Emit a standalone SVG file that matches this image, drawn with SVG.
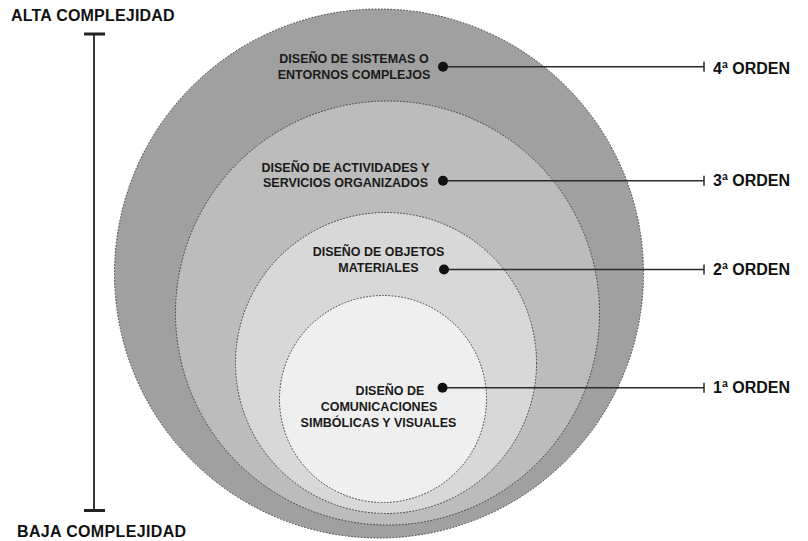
<svg xmlns="http://www.w3.org/2000/svg" width="808" height="541" viewBox="0 0 808 541">
  <style>
    .ring { stroke: #3a3a3a; stroke-width: 1; stroke-dasharray: 1.6 1.6; }
    .lbl { font-family: "Liberation Sans", Arial, sans-serif; font-weight: bold; font-size: 12.5px; fill: #1a1a1a; text-anchor: middle; }
    .big { font-family: "Liberation Sans", Arial, sans-serif; font-weight: bold; font-size: 16px; fill: #111; }
    .conn { stroke: #2a2a2a; stroke-width: 1.5; fill: none; }
    .dot { fill: #111; }
  </style>
  <rect width="808" height="541" fill="#ffffff"/>

  <g id="scale">
    <line x1="94" y1="34" x2="94" y2="510" stroke="#222" stroke-width="1.8"/>
    <rect x="84" y="32.5" width="21" height="3" fill="#222"/>
    <rect x="84" y="509" width="21" height="3" fill="#222"/>
    <text class="big" x="11" y="20.7" letter-spacing="0.2">ALTA COMPLEJIDAD</text>
    <text class="big" x="17" y="536.7" letter-spacing="0.35">BAJA COMPLEJIDAD</text>
  </g>

  <g id="node-4">
    <circle class="ring" cx="379" cy="273.5" r="264.5" fill="#a0a0a0"/>
  </g>
  <g id="node-3">
    <circle class="ring" cx="387.5" cy="313" r="212" fill="#bcbcbc"/>
  </g>
  <g id="node-2">
    <circle class="ring" cx="386" cy="363" r="150.5" fill="#d8d8d8"/>
  </g>
  <g id="node-1">
    <circle class="ring" cx="383" cy="399" r="103.5" fill="#efefef"/>
  </g>

  <g id="labels">
    <g id="label-4">
      <text class="lbl" x="354" y="63.3">DISEÑO DE SISTEMAS O</text>
      <text class="lbl" x="354" y="79.3">ENTORNOS COMPLEJOS</text>
    </g>
    <g id="label-3">
      <text class="lbl" x="345.5" y="171.7">DISEÑO DE ACTIVIDADES Y</text>
      <text class="lbl" x="345.5" y="187.3">SERVICIOS ORGANIZADOS</text>
    </g>
    <g id="label-2">
      <text class="lbl" x="378.5" y="255.7">DISEÑO DE OBJETOS</text>
      <text class="lbl" x="378.5" y="271.7">MATERIALES</text>
    </g>
    <g id="label-1">
      <text class="lbl" x="390" y="395">DISEÑO DE</text>
      <text class="lbl" x="379" y="410.7">COMUNICACIONES</text>
      <text class="lbl" x="378.5" y="426.7">SIMBÓLICAS Y VISUALES</text>
    </g>
  </g>

  <g id="connectors">
    <line class="conn" x1="443" y1="66.7" x2="704" y2="66.7"/>
    <line class="conn" x1="704" y1="61.7" x2="704" y2="71.7"/>
    <circle class="dot" cx="443" cy="66.7" r="5"/>

    <line class="conn" x1="443" y1="180.7" x2="704" y2="180.7"/>
    <line class="conn" x1="704" y1="175.7" x2="704" y2="185.7"/>
    <circle class="dot" cx="443" cy="180.7" r="5"/>

    <line class="conn" x1="444" y1="269.5" x2="704" y2="269.5"/>
    <line class="conn" x1="704" y1="264.5" x2="704" y2="274.5"/>
    <circle class="dot" cx="444" cy="269.5" r="5"/>

    <line class="conn" x1="442.5" y1="387.7" x2="704" y2="387.7"/>
    <line class="conn" x1="704" y1="382.7" x2="704" y2="392.7"/>
    <circle class="dot" cx="442.5" cy="387.7" r="5"/>
  </g>

  <g id="orders">
    <text class="big" x="713" y="74">4ª ORDEN</text>
    <text class="big" x="713" y="186">3ª ORDEN</text>
    <text class="big" x="713" y="274.5">2ª ORDEN</text>
    <text class="big" x="713" y="392.5">1ª ORDEN</text>
  </g>
</svg>
